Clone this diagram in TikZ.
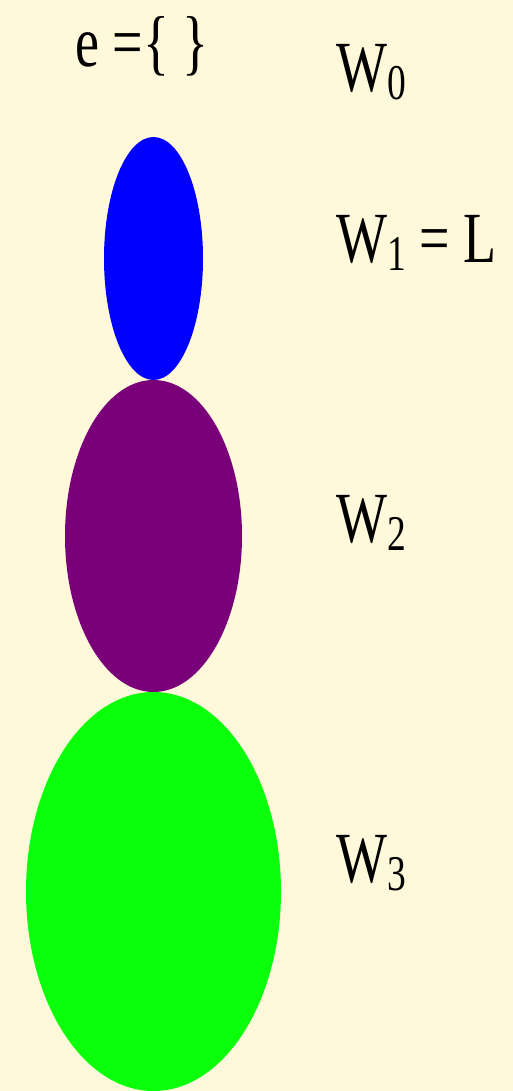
\documentclass[tikz,border=0pt]{standalone}
\usepackage{fontspec}
\newfontfamily\timesfont{Liberation Serif}
\usepackage{graphicx}
\usepackage{xcolor}
\definecolor{paper}{HTML}{FFF8DA}
\definecolor{setblue}{HTML}{0000FF}
\definecolor{setpurple}{HTML}{7A007A}
\definecolor{setgreen}{HTML}{0AFF0A}
\newcommand{\narrow}[1]{\scalebox{0.75}[1]{#1}}
\newcommand{\wsub}[1]{W\raisebox{-8pt}{\fontsize{50}{50}\selectfont #1}}

\begin{document}
\begin{tikzpicture}[x=1pt,y=-1pt,every node/.style={font=\timesfont\fontsize{72}{80}\selectfont,inner sep=0pt},wlabel/.style={anchor=base west}]
\useasboundingbox (0,0) rectangle (513,1091);
\fill[paper] (0,0) rectangle (513,1091);
% the growing sets
\fill[setblue] (153.5,258.5) ellipse [x radius=49.5, y radius=121.5];
\fill[setpurple] (153.5,536) ellipse [x radius=88.5, y radius=156];
\fill[setgreen] (153.5,891.5) ellipse [x radius=127.5, y radius=199.5];
\node[wlabel] (empty) at (75,67) {\narrow{e =\{ \}}};
\node[wlabel] (w0) at (336,92) {\narrow{\wsub{0}}};
\node[wlabel] (w1) at (336,262) {\narrow{\wsub{1} = L}};
\node[wlabel] (w2) at (336,542) {\narrow{\wsub{2}}};
\node[wlabel] (w3) at (336,882) {\narrow{\wsub{3}}};
\end{tikzpicture}
\end{document}
